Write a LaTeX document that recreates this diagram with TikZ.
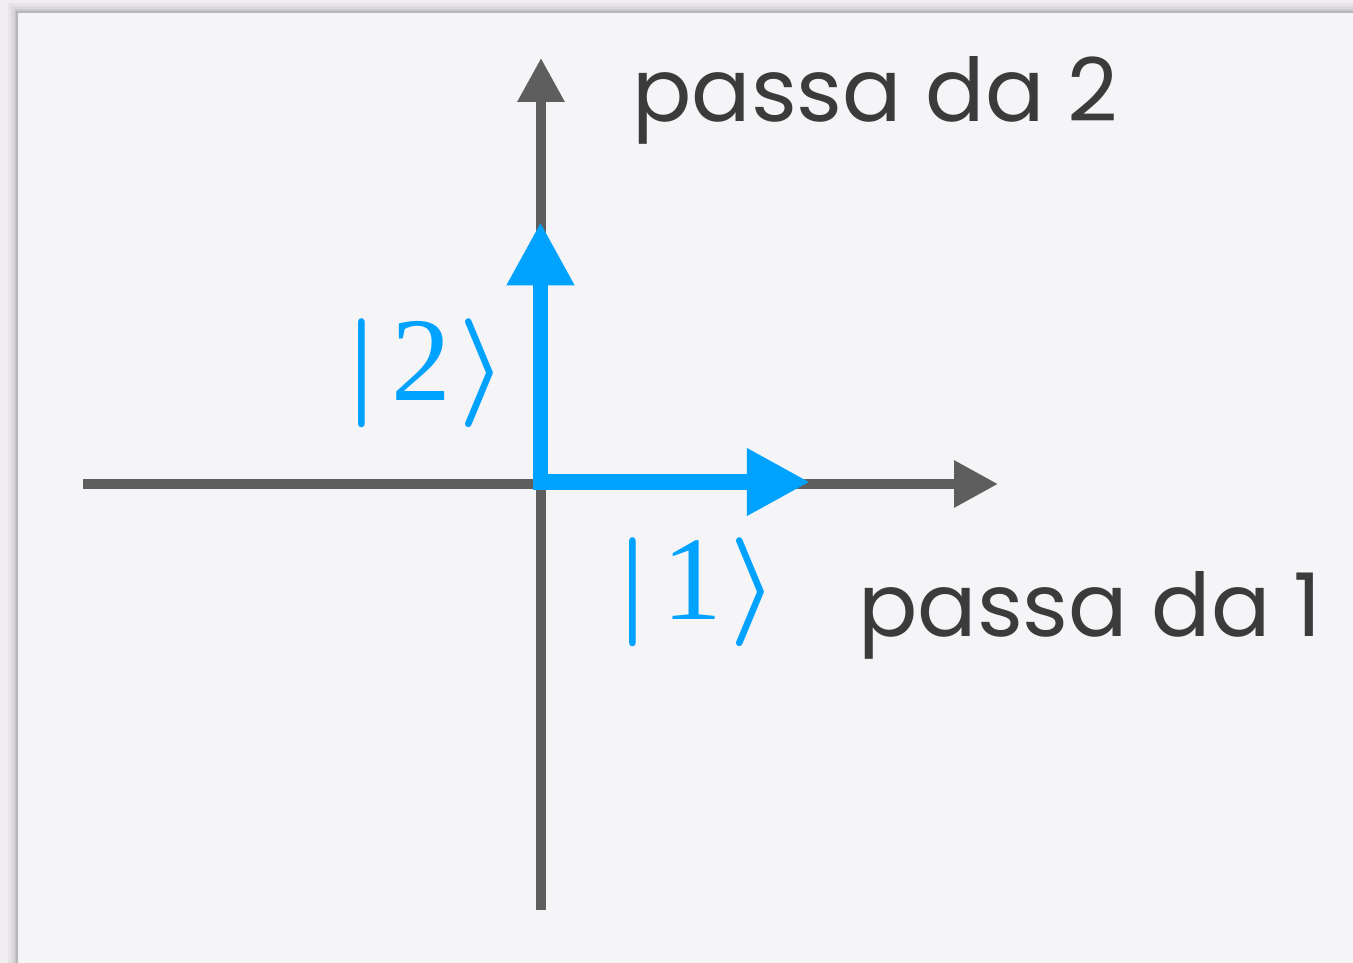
\documentclass[tikz,border=0pt]{standalone}
\usepackage{fix-cm}
\usepackage{fontspec}
\setmainfont{Poppins}
\newfontfamily\ketdigit{Liberation Serif}
\usetikzlibrary{arrows.meta, positioning}

\definecolor{pagebg}{HTML}{EFEDF0}
\definecolor{panelbg}{HTML}{F5F4F7}
\definecolor{axisgray}{HTML}{5E5E5E}
\definecolor{textgray}{HTML}{3B3B3B}
\definecolor{ketblue}{HTML}{00A2FF}

\newcommand{\ketlabel}[1]{$|$\hspace{7pt}{\ketdigit\fontsize{68}{68}\selectfont #1}\hspace{4pt}$\rangle$}

\begin{document}
\begin{tikzpicture}[
    x=0.02cm, y=-0.02cm,
    axis/.style={draw=axisgray, line width=5.6pt, -{Triangle[length=25pt, width=25.5pt]}},
    vec/.style={draw=ketblue, line width=9pt, line join=miter, {Triangle[length=36pt, width=36pt]}-{Triangle[length=36pt, width=36pt]}},
    ket/.style={text=ketblue, inner sep=0pt, font=\fontsize{62}{62}\selectfont\boldmath},
    caption/.style={text=textgray, inner sep=0pt, font=\fontsize{50}{50}\selectfont}
]

% page and panel
\fill[pagebg] (0,0) rectangle (1353,963);
\foreach \s/\o in {10/0.03, 7/0.05, 4/0.07, 2/0.09}
  \fill[black, opacity=\o] (18-\s,13-\s) rectangle (1353,963);
\fill[panelbg] (18,13) rectangle (1353,963);

% axes
\coordinate (O) at (540.5,482);
\coordinate (xl) at (83,484);
\coordinate (xr) at (998,484);
\coordinate (yb) at (541,910);
\coordinate (yt) at (541,58);
\draw[axis] (xl) -- (xr);
\draw[axis] (yb) -- (yt);

% basis vectors
\coordinate (e1) at (810,482);
\coordinate (e2) at (540.5,222);
\draw[vec] (e1) -- (O) -- (e2);

% labels
\node[ket] (k2) at (426,373) {\ketlabel{2}};
\node[ket] (k1) at (697,592) {\ketlabel{1}};
\node[caption, anchor=base west] (p2) at (632,122) {passa da 2};
\node[caption, anchor=base west] (p1) at (858,636) {passa da 1};

\end{tikzpicture}
\end{document}
